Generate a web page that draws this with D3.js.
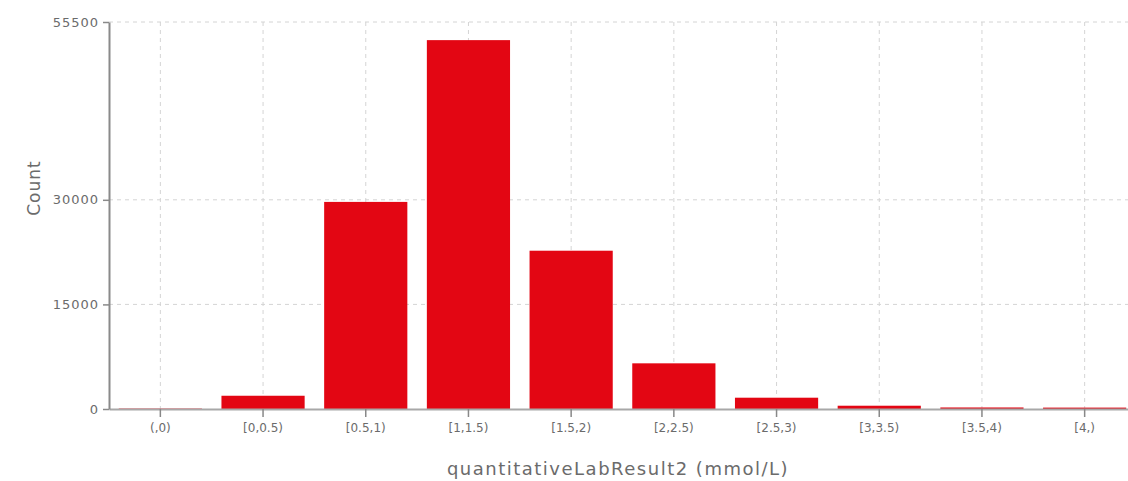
<!DOCTYPE html>
<html>
<head>
<meta charset="utf-8">
<script src="https://cdn.jsdelivr.net/npm/d3@7"></script>
<style>
  html, body { margin: 0; padding: 0; background: #fff; }
  svg { display: block; font-family: "DejaVu Sans", sans-serif; }
</style>
</head>
<body>
<svg id="chart" width="1128" height="481"></svg>
<script>
// Histogram of quantitativeLabResult2 counts per bin
const categories = ["(,0)", "[0,0.5)", "[0.5,1)", "[1,1.5)", "[1.5,2)", "[2,2.5)", "[2.5,3)", "[3,3.5)", "[3.5,4)", "[4,)"];
const counts = [60, 1900, 29700, 52900, 22700, 6550, 1620, 470, 220, 200];
const yTicks = [0, 15000, 30000, 55500];
const yMax = 55500;

const svg = d3.select("#chart");
const plotLeft = 109, plotRight = 1136, plotTop = 22, plotBottom = 409;
const textColor = "#6b6b6b";

const x = d3.scaleBand()
  .domain(categories)
  .range([plotLeft, plotRight])
  .paddingInner(0.19)
  .paddingOuter(0.095);

const y = d3.scaleLinear().domain([0, yMax]).range([plotBottom, plotTop]);

const grid = svg.append("g").attr("class", "grid")
  .attr("stroke", "#d4d4d4").attr("stroke-width", 1).attr("stroke-dasharray", "4,4");

// horizontal grid at each y tick
grid.selectAll("line.h").data(yTicks.filter(d => d > 0)).join("line")
  .attr("class", "h")
  .attr("x1", plotLeft).attr("x2", plotRight)
  .attr("y1", d => y(d)).attr("y2", d => y(d));

// vertical grid at each bin center
grid.selectAll("line.v").data(categories).join("line")
  .attr("class", "v")
  .attr("x1", d => x(d) + x.bandwidth() / 2).attr("x2", d => x(d) + x.bandwidth() / 2)
  .attr("y1", plotTop).attr("y2", plotBottom);

// bars
svg.append("g").selectAll("rect").data(categories).join("rect")
  .attr("x", d => x(d))
  .attr("width", x.bandwidth())
  .attr("y", (d, i) => y(counts[i]))
  .attr("height", (d, i) => plotBottom - y(counts[i]))
  .attr("fill", "#e30613");

// x axis
const xAxis = svg.append("g")
  .attr("transform", `translate(0,${plotBottom})`)
  .call(d3.axisBottom(x).tickSize(8).tickPadding(6).tickSizeOuter(0));
xAxis.select(".domain").attr("stroke", "#a8a8a8").attr("stroke-width", 2);
xAxis.selectAll(".tick line").attr("stroke", "#888").attr("stroke-width", 1.5);
xAxis.selectAll(".tick text").attr("fill", textColor).attr("font-size", 12)
  .attr("font-family", "DejaVu Sans, sans-serif");

// y axis
const yAxis = svg.append("g")
  .attr("transform", `translate(${plotLeft},0)`)
  .call(d3.axisLeft(y).tickValues(yTicks).tickFormat(d3.format("d")).tickSize(6).tickPadding(4).tickSizeOuter(0));
yAxis.select(".domain").attr("stroke", "#8a8a8a").attr("stroke-width", 2);
yAxis.selectAll(".tick line").attr("stroke", "#8a8a8a").attr("stroke-width", 1.5);
yAxis.selectAll(".tick text").attr("fill", textColor).attr("font-size", 13)
  .attr("letter-spacing", 1)
  .attr("font-family", "DejaVu Sans, sans-serif");

// axis titles
svg.append("text")
  .attr("x", 618).attr("y", 475)
  .attr("text-anchor", "middle")
  .attr("fill", textColor).attr("font-size", 18)
  .attr("letter-spacing", 1.5)
  .text("quantitativeLabResult2 (mmol/L)");

svg.append("text")
  .attr("transform", "translate(40,188) rotate(-90)")
  .attr("text-anchor", "middle")
  .attr("fill", textColor).attr("font-size", 17)
  .attr("letter-spacing", 1)
  .text("Count");
</script>
</body>
</html>
